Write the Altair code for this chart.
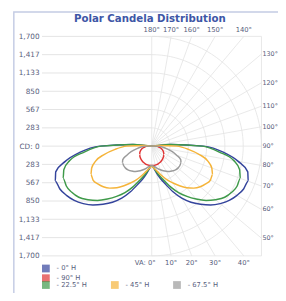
import math
import altair as alt
import pandas as pd

# ---------------- data ----------------
title_text = "Polar Candela Distribution"
cd_levels = [283, 567, 850, 1133, 1417, 1700]
cd_max = 1700

# vertical angles (degrees from nadir)
vertical_angles = [0, 5, 10, 15, 20, 25, 30, 35, 40, 45, 50, 55, 60, 65, 70, 75, 80, 85, 90, 95, 100]

planes = ["0° H", "90° H", "22.5° H", "45° H", "67.5° H"]
plane_colors = ["#34449c", "#e03434", "#3f9a4a", "#f5b43a", "#9b9b9b"]

cd_h0 = [300, 340, 420, 520, 630, 780, 930, 1060, 1175, 1290, 1385, 1465, 1525, 1570, 1590, 1540, 1360, 1120, 800, 300, 0]
cd_h90 = [300, 300, 299, 296, 291, 285, 278, 270, 261, 251, 240, 228, 214, 198, 180, 158, 132, 102, 70, 0, 0]
cd_h22 = [300, 330, 400, 480, 570, 700, 830, 950, 1070, 1190, 1290, 1380, 1430, 1460, 1460, 1410, 1290, 1050, 780, 280, 0]
cd_h45 = [300, 340, 375, 430, 500, 580, 660, 750, 840, 920, 980, 1020, 1050, 1040, 990, 900, 750, 570, 390, 120, 0]
cd_h67 = [300, 310, 330, 360, 390, 420, 450, 480, 500, 520, 530, 530, 525, 495, 410, 330, 240, 165, 90, 20, 0]
series = [cd_h0, cd_h90, cd_h22, cd_h45, cd_h67]

right_angles = [130, 120, 110, 100, 90, 80, 70, 60, 50]
right_labels = ["130°", "120°", "110°", "100°", "90°", "80°", "70°", "60°", "50°"]
top_angles = [180, 170, 160, 150, 140]
top_labels = ["180°", "170°", "160°", "150°", "140°"]
bottom_angles = [0, 10, 20, 30, 40]
bottom_labels = ["VA: 0°", "10°", "20°", "30°", "40°"]

# ---------------- styling ----------------
FONT = "DejaVu Sans"
LABEL_COLOR = "#58607c"
GRID_COLOR = "#e3e3e3"
W = H = 226

xs = alt.Scale(domain=[-cd_max, cd_max], nice=False, zero=False)
ys = alt.Scale(domain=[-cd_max, cd_max], nice=False, zero=False)

y_values = sorted([-v for v in cd_levels] + [0] + cd_levels)
y_axis = alt.Axis(
    values=y_values,
    labelExpr="datum.value == 0 ? 'CD: 0' : format(abs(datum.value), ',')",
    domain=False, ticks=False, grid=False, title=None,
    labelFont=FONT, labelFontSize=7.5, labelColor=LABEL_COLOR, labelPadding=3,
)


def X(f="x"):
    return alt.X(f"{f}:Q", scale=xs, axis=None)


def Y(f="y"):
    return alt.Y(f"{f}:Q", scale=ys, axis=y_axis)


def ray_end(phi_deg):
    p = math.radians(phi_deg)
    s, c = math.sin(p), math.cos(p)
    t = cd_max / max(abs(s), abs(c))
    return t * s, -t * c


# curves
rows = []
n = len(vertical_angles)
for plane, vals in zip(planes, series):
    for i, (a, v) in enumerate(zip(vertical_angles, vals)):
        r = math.radians(a)
        rows.append({"plane": plane, "x": -v * math.sin(r), "y": -v * math.cos(r), "o": i})
        rows.append({"plane": plane, "x": v * math.sin(r), "y": -v * math.cos(r), "o": 2 * n - 1 - i})
curves_df = pd.DataFrame(rows)

# grid: left horizontal lines
hl = [{"y": s * v} for v in cd_levels for s in (1, -1)] + [{"y": 0}]
hl_df = pd.DataFrame(hl)
hl_df["x"] = -cd_max
hl_df["x2"] = 0

# grid: radial lines (right half)
rad = []
for phi in range(0, 181, 10):
    ex, ey = ray_end(phi)
    rad.append({"x": 0.0, "y": 0.0, "x2": ex, "y2": ey})
rad_df = pd.DataFrame(rad)

# grid: arcs (right half)
arc = []
for lv in cd_levels:
    for phi in range(0, 181, 3):
        p = math.radians(phi)
        arc.append({"lv": lv, "x": lv * math.sin(p), "y": -lv * math.cos(p), "o": phi})
arc_df = pd.DataFrame(arc)

# border of right half
border_df = pd.DataFrame([
    {"x": cd_max, "y": -cd_max, "x2": cd_max, "y2": cd_max},
    {"x": 0, "y": cd_max, "x2": cd_max, "y2": cd_max},
    {"x": 0, "y": -cd_max, "x2": cd_max, "y2": -cd_max},
])


def label_df(angles, labels):
    out = []
    for a, t in zip(angles, labels):
        ex, ey = ray_end(a)
        out.append({"x": ex, "y": ey, "t": t})
    return pd.DataFrame(out)


rl_df = label_df(right_angles, right_labels)
tl_df = label_df(top_angles, top_labels)
bl_df = label_df(bottom_angles, bottom_labels)

# ---------------- layers ----------------
frame = alt.Chart(pd.DataFrame({"k": [0]})).mark_rect(
    fillOpacity=0, stroke="#c4cce4", strokeWidth=1.5
).encode(x=alt.value(-29), x2=alt.value(400), y=alt.value(-25), y2=alt.value(400))

grid_h = alt.Chart(hl_df).mark_rule(color=GRID_COLOR, strokeWidth=1).encode(
    x=X(), x2="x2:Q", y=Y())

grid_r = alt.Chart(rad_df).mark_rule(color=GRID_COLOR, strokeWidth=0.8).encode(
    x=X(), y=Y(), x2="x2:Q", y2="y2:Q")

grid_b = alt.Chart(border_df).mark_rule(color=GRID_COLOR, strokeWidth=0.8).encode(
    x=X(), y=Y(), x2="x2:Q", y2="y2:Q")

grid_a = alt.Chart(arc_df).mark_line(color=GRID_COLOR, strokeWidth=0.8).encode(
    x=X(), y=Y(), detail="lv:N", order="o:Q")

curves = alt.Chart(curves_df).mark_line(strokeWidth=1.5, interpolate="monotone").encode(
    x=X(), y=Y(),
    color=alt.Color("plane:N", scale=alt.Scale(domain=planes, range=plane_colors), legend=None),
    order="o:Q",
)

txt = dict(font=FONT, fontSize=7, color=LABEL_COLOR)
lab_right = alt.Chart(rl_df).mark_text(align="left", baseline="middle", dx=1,
                                       font=FONT, fontSize=6.6, color=LABEL_COLOR).encode(
    x=X(), y=Y(), text="t:N")
lab_top = alt.Chart(tl_df).mark_text(align="center", baseline="middle", dy=-7, **txt).encode(
    x=X(), y=Y(), text="t:N")
lab_bot = alt.Chart(bl_df.iloc[1:]).mark_text(align="center", baseline="middle", dy=7, **txt).encode(
    x=X(), y=Y(), text="t:N")
lab_va = alt.Chart(bl_df.iloc[:1]).mark_text(align="right", baseline="middle", dy=7, dx=4, **txt).encode(
    x=X(), y=Y(), text="t:N")

title = alt.Chart(pd.DataFrame({"t": [title_text]})).mark_text(
    align="center", baseline="middle", font=FONT, fontSize=10.5, fontWeight="bold", color="#3d56a6"
).encode(x=alt.value(111), y=alt.value(-18), text="t:N")

legend_common = dict(
    orient="none", title=None, symbolType="square", symbolSize=64, symbolStrokeWidth=0,
    labelFont=FONT, labelFontSize=7, labelColor=LABEL_COLOR, labelOffset=7,
    labelExpr="'- ' + datum.label", rowPadding=2, padding=0, offset=0,
)
empty = pd.DataFrame({"plane": pd.Series([], dtype=str)})
leg1 = alt.Chart(empty).mark_square(size=64).encode(
    fill=alt.Fill("plane:N", scale=alt.Scale(domain=planes[:2], range=plane_colors[:2]),
                  legend=alt.Legend(legendX=0, legendY=235, direction="vertical", **legend_common))
)
leg2 = alt.Chart(empty).mark_square(size=64).encode(
    fill=alt.Fill("plane:N", scale=alt.Scale(domain=planes[2:], range=plane_colors[2:]),
                  legend=alt.Legend(legendX=0, legendY=252, direction="horizontal", columns=3,
                                    columnPadding=24, **legend_common))
)

chart = alt.layer(
    frame, grid_h, grid_a, grid_r, grid_b, curves,
    lab_right, lab_top, lab_bot, lab_va, title, leg1, leg2,
).resolve_scale(fill="independent").properties(
    width=W, height=H,
    autosize=alt.AutoSizeParams(type="none"),
    padding={"left": 35, "top": 25, "right": 17, "bottom": 34},
).configure_view(stroke=None)

chart.save("out.html", embed_options={"renderer": "svg", "actions": False})
